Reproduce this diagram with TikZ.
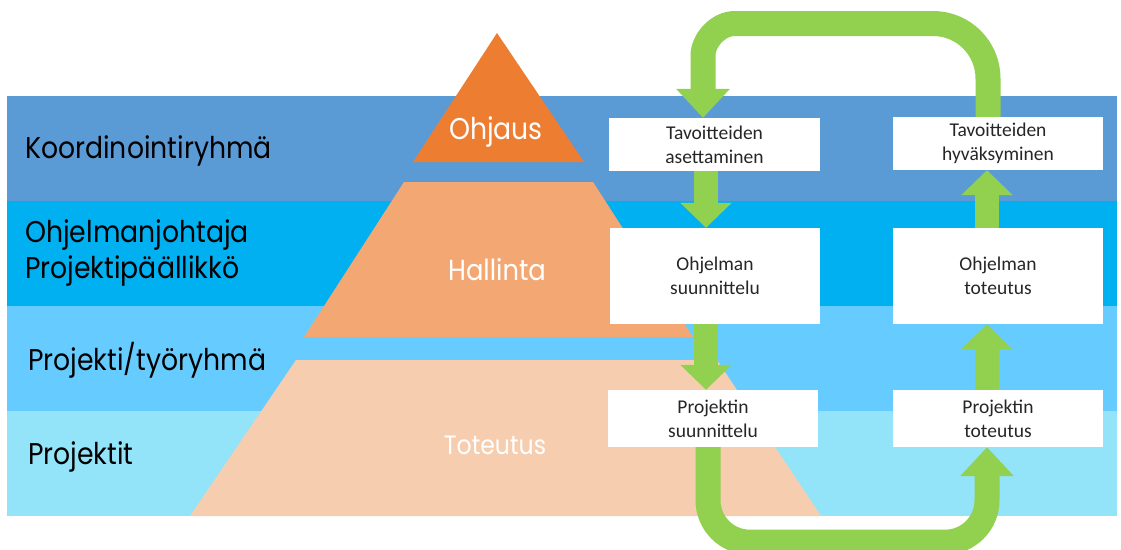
\documentclass[tikz,border=0pt]{standalone}
\usepackage{fontspec}
\usetikzlibrary{arrows.meta}
\setmainfont{Carlito}
\newfontfamily\geofont[FakeStretch=0.89]{Poppins}

\definecolor{bandA}{HTML}{5B9BD5}
\definecolor{bandB}{HTML}{00B0F0}
\definecolor{bandC}{HTML}{66CCFF}
\definecolor{bandD}{HTML}{94E4F9}
\definecolor{tipcol}{HTML}{ED7D31}
\definecolor{midcol}{HTML}{F3A873}
\definecolor{basecol}{HTML}{F7CDAF}
\definecolor{arrowgreen}{HTML}{92D050}
\definecolor{boxtext}{HTML}{262626}

\tikzset{
  rowlabel/.style={anchor=base west, inner sep=0pt, text=black,
    font=\geofont\fontsize{30}{36}\selectfont},
  levellabel/.style={anchor=base, inner sep=0pt, text=white,
    font=\geofont\fontsize{29}{36}\selectfont},
  stepbox/.style={fill=white, draw=none, inner sep=0pt, align=center,
    text=boxtext, font=\fontsize{19.5}{24}\selectfont},
  garrow/.style={draw=arrowgreen, line width=24pt,
    -{Triangle[width=50pt,length=25pt]}},
  bigarrow/.style={draw=arrowgreen, line width=25pt,
    -{Triangle[width=52pt,length=29pt]}},
}

\begin{document}
\begin{tikzpicture}[x=1pt,y=-1pt]
\useasboundingbox (0,0) rectangle (1121,549);
\clip (0,0) rectangle (1121,549);
\fill[white] (0,0) rectangle (1121,549);

% horizontal role bands
\fill[bandA] (7,96) rectangle (1117,201);
\fill[bandB] (7,201) rectangle (1117,306);
\fill[bandC] (7,306) rectangle (1117,411);
\fill[bandD] (7,411) rectangle (1117,516);

% pyramid levels
\fill[tipcol] (497,33) -- (584,162) -- (413,162) -- cycle;
\fill[midcol] (404,182) -- (593,182) -- (693,337) -- (304,337) -- cycle;
\fill[basecol] (296,360) -- (717,360) -- (821,516) -- (190,516) -- cycle;

\node[levellabel, font=\geofont\fontsize{30}{36}\selectfont] (ohjaus) at (496,139) {Ohjaus};
\node[levellabel] (hallinta) at (497,280) {Hallinta};
\node[levellabel, font=\geofont\fontsize{26.5}{32}\selectfont] (toteutus) at (495,454) {Toteutus};

% row labels
\node[rowlabel] (koord) at (25,158) {Koordinointiryhmä};
\node[rowlabel] (ohjjoht) at (25,242) {Ohjelmanjohtaja};
\node[rowlabel] (projpaal) at (25,278) {Projektipäällikkö};
\node[rowlabel] (tyoryhma) at (28,370) {Projekti/työryhmä};
\node[rowlabel] (projektit) at (28,464) {Projektit};

% process steps
\node[stepbox, minimum width=211pt, minimum height=53pt] (A) at (714.5,144.5) {Tavoitteiden\\asettaminen};
\node[stepbox, minimum width=210pt, minimum height=96pt] (B) at (715,276) {Ohjelman\\suunnittelu};
\node[stepbox, minimum width=210pt, minimum height=57pt] (C) at (713,418.5) {Projektin\\suunnittelu};
\node[stepbox, minimum width=210pt, minimum height=53pt] (D) at (998,143.5) {Tavoitteiden\\hyväksyminen};
\node[stepbox, minimum width=210pt, minimum height=96pt] (E) at (998,276) {Ohjelman\\toteutus};
\node[stepbox, minimum width=210pt, minimum height=57pt] (F) at (998,418.5) {Projektin\\toteutus};

% straight arrows between steps
\draw[garrow] ([xshift=-8.5pt]A.south) -- ([xshift=-9pt]B.north);
\draw[garrow] ([xshift=-9pt]B.south) -- ([xshift=-7pt]C.north);
\draw[garrow] ([xshift=-11pt]F.north) -- ([xshift=-11pt]E.south);
\draw[garrow] ([xshift=-11pt]E.north) -- ([xshift=-11pt]D.south);

% loop arrows: wide bend on the right, tighter bend on the left at the top
\draw[bigarrow] ([xshift=-10pt]D.north) -- (988,78.5)
  .. controls (988,48.1) and (963.4,23.5) .. (933,23.5)
  -- (735,23.5)
  .. controls (717.3,23.5) and (703,41.2) .. (703,55.5)
  -- ([xshift=-11.5pt]A.north);
\draw[bigarrow, rounded corners=42pt] ([xshift=-5pt]C.south) -- ++(0,95) -| ([xshift=-11pt]F.south);
\end{tikzpicture}
\end{document}
